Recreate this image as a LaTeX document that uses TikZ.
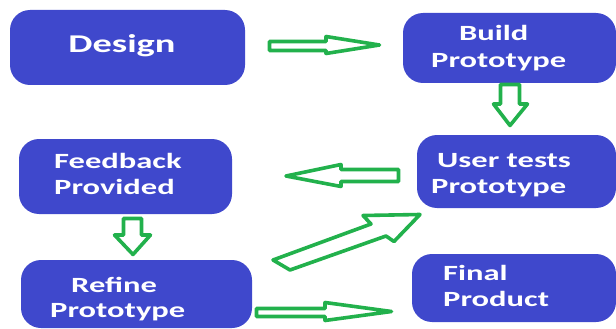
\documentclass[tikz,border=0pt]{standalone}
\usepackage{fontspec}
\newfontfamily\boxfont{Carlito}[FakeStretch=1.5]
\definecolor{boxblue}{HTML}{3F48CC}
\definecolor{arrgreen}{HTML}{22B14C}
\tikzset{
  box/.style={rectangle, fill=boxblue, rounded corners=20pt, inner sep=0pt},
  lbl/.style={text=white, inner sep=0pt, font=\boxfont\bfseries\fontsize{21.7}{26}\selectfont},
  biglbl/.style={text=white, inner sep=0pt, font=\boxfont\bfseries\fontsize{25.6}{30}\selectfont},
  blockarrow/.style={draw=arrgreen, fill=white, line width=3.6pt, line join=round}
}
\begin{document}
\begin{tikzpicture}[x=1pt,y=-1pt]
\useasboundingbox (0,0) rectangle (616,329);
% boxes
\node[box, minimum width=235pt, minimum height=75pt] (design) at (127.5,47.5) {};
\node[box, minimum width=213pt, minimum height=70pt] (build) at (509.5,48) {};
\node[box, minimum width=199pt, minimum height=73pt] (user) at (516.5,171.5) {};
\node[box, minimum width=213pt, minimum height=75pt] (feedback) at (125.5,176.5) {};
\node[box, minimum width=231pt, minimum height=68pt] (refine) at (136.5,294) {};
\node[box, minimum width=204pt, minimum height=68pt] (final) at (514,288) {};
% labels
\node[biglbl, anchor=base] (designT) at (122,53) {Design};
\node[lbl, anchor=base west] (buildT1) at (459,41) {Build};
\node[lbl, anchor=base west] (buildT2) at (431,68) {Prototype};
\node[lbl, anchor=base west] (userT1) at (437,167) {User tests};
\node[lbl, anchor=base west] (userT2) at (431,193) {Prototype};
\node[lbl, anchor=base west] (feedT1) at (54,168) {Feedback};
\node[lbl, anchor=base west] (feedT2) at (54,194) {Provided};
\node[lbl, anchor=base west] (refT1) at (71,292) {Refine};
\node[lbl, anchor=base west] (refT2) at (50,317) {Prototype};
\node[lbl, anchor=base west] (finT1) at (443,280) {Final};
\node[lbl, anchor=base west] (finT2) at (443,306) {Product};
% block arrows
% design -> build
\draw[blockarrow] (269.5,41.5) -- (326,41.5) -- (326,36.5) -- (379.5,45) -- (326,53.5) -- (326,50.5) -- (269.5,50.5) -- cycle;
% build -> user
\draw[blockarrow] (500.5,84.5) -- (519.5,84.5) -- (519.5,104) -- (527.5,104) -- (510,125.5) -- (493.5,104) -- (500.5,104) -- cycle;
% user -> feedback
\draw[blockarrow] (398.5,169.5) -- (341,169.5) -- (341,164.5) -- (286,176) -- (341,186.5) -- (341,181.5) -- (398.5,181.5) -- cycle;
% feedback -> refine
\draw[blockarrow] (123.5,218.5) -- (141.5,218.5) -- (141.5,235) -- (150.5,235) -- (133,254.5) -- (114.5,235) -- (123.5,235) -- cycle;
% refine -> user
\draw[blockarrow] (273,260) -- (371,224) -- (363,215.5) -- (420,214.5) -- (394,241.5) -- (386,236) -- (290,270) -- cycle;
% refine -> final
\draw[blockarrow] (256.5,308.5) -- (325,308.5) -- (325,302.5) -- (391.5,311.5) -- (325,320.5) -- (325,316.5) -- (256.5,316.5) -- cycle;
\end{tikzpicture}
\end{document}
